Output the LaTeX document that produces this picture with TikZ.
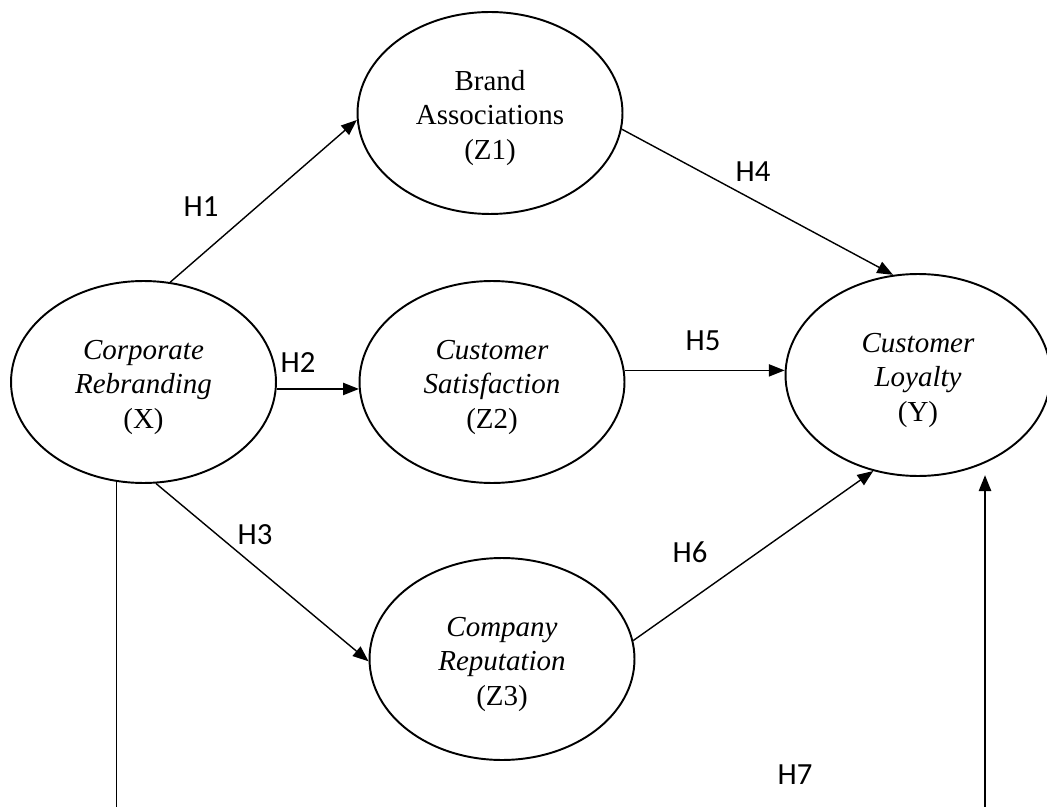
\documentclass[tikz,border=0pt]{standalone}
\usepackage{fontspec}
\setmainfont{Liberation Serif}
\newfontfamily\hypfont{Carlito}
\usetikzlibrary{shapes.geometric, arrows.meta}
% taller first line, to set the text a bit lower in its ellipse
\newcommand\lift{\rule{0pt}{17pt}}

\begin{document}
\begin{tikzpicture}[x=0.02cm, y=-0.02cm,
  construct/.style={ellipse, draw, line width=1.1pt, minimum width=5.3cm, minimum height=4.04cm,
    inner sep=0pt, align=center, font=\fontsize{16.5}{19.5}\selectfont},
  link/.style={line width=0.8pt, -{Triangle[length=9pt,width=7pt]}},
  hyp/.style={font=\hypfont\fontsize{17.5}{20}\selectfont}]
\useasboundingbox (0,0) rectangle (1047,807);
% Constructs
\node[construct] (X) at (143.5,382) {\lift\textit{Corporate}\\\textit{Rebranding}\\(X)};
\node[construct] (Z1) at (490,113) {\lift Brand\\Associations\\(Z1)};
\node[construct] (Z2) at (492,382) {\lift\textit{Customer}\\\textit{Satisfaction}\\(Z2)};
\node[construct] (Z3) at (502,659) {\lift\textit{Company}\\\textit{Reputation}\\(Z3)};
\node[construct] (Y) at (918,375) {\lift\textit{Customer}\\\textit{Loyalty}\\(Y)};
% Bottom ends of the direct path
\coordinate (base) at (0,807);
\coordinate (foot) at (985,807);
% Paths from X to the mediators
\draw[link] (X.75) -- (Z1.183);
\draw[link] (X.357) -- (Z2.183);
\draw[link] (X.277) -- (Z3.181);
% Paths from the mediators to Y
\draw[link] (Z1.353) -- (Y.104);
\draw[link] (Z2.5) -- (Z2.5 -| Y.west);
\draw[link] (Z3.8) -- (Y.245);
% Direct path X to Y
\draw[line width=0.8pt] (X.255) -- (X.255 |- base);
\draw[link] (foot) -- ([yshift=1pt]foot |- Y.south);
% Hypothesis labels
\node[hyp] (h1) at (201,207) {H1};
\node[hyp] (h2) at (298,363) {H2};
\node[hyp] (h3) at (255,535) {H3};
\node[hyp] (h4) at (753,172) {H4};
\node[hyp] (h5) at (703,341) {H5};
\node[hyp] (h6) at (690,552) {H6};
\node[hyp] (h7) at (795,775) {H7};
\end{tikzpicture}
\end{document}
